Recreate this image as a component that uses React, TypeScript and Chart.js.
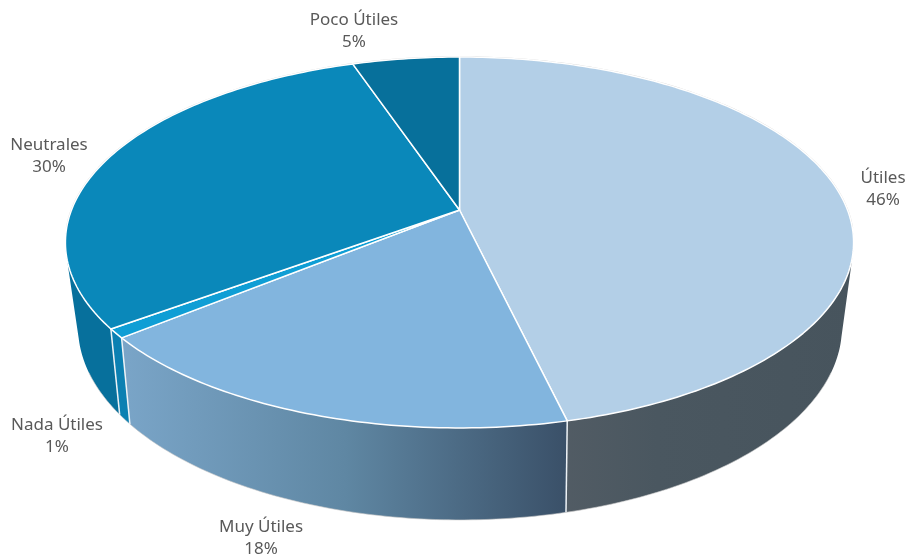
import React, { useEffect, useRef } from "react";
import { Chart, registerables } from "chart.js";

Chart.register(...registerables);

const categories = ["Útiles", "Muy Útiles", "Nada Útiles", "Neutrales", "Poco Útiles"];
const values = [46.3, 17.8, 0.8, 29.9, 5.2];
const percentLabels = ["46%", "18%", "1%", "30%", "5%"];
const topColors = ["#B3CFE7", "#82B5DE", "#0F9ED5", "#0A88BA", "#07709B"];
const wallStops = [
  ["#5A6169", "#4A5760", "#47545D"],
  ["#7AA5C8", "#5F87A3", "#3A5068"],
  ["#0B80B2", "#0B80B2", "#0B80B2"],
  ["#07709C", "#07709C", "#07709C"],
  ["#07709C", "#07709C", "#07709C"],
];
const labelAnchors = [
  [883, 178],
  [261, 527],
  [57, 425],
  [49, 145],
  [354, 20],
];

const topFace = { cx: 459.5, cy: 210, a: 388, b: 179.8, p: 0.175 };
const bottomFace = { cx: 460, cy: 290.3, a: 375, b: 186, p: 0.19 };
type Face = typeof topFace;

const project = (f: Face, angle: number): [number, number] => {
  const u = Math.cos(angle);
  const v = Math.sin(angle);
  const d = 1 - f.p * v;
  return [f.cx + (f.a * u) / d, f.cy + (f.b * v) / d];
};

const pie3d = {
  id: "pie3d",
  beforeDatasetsDraw(chart: any) {
    const ctx: CanvasRenderingContext2D = chart.ctx;
    const arcs = chart.getDatasetMeta(0).data;
    const STEP = Math.PI / 180;
    ctx.save();
    ctx.lineJoin = "round";

    const sample = (start: number, end: number) => {
      const n = Math.max(2, Math.ceil((end - start) / STEP));
      return Array.from({ length: n + 1 }, (_, i) => start + ((end - start) * i) / n);
    };

    // walls
    arcs.forEach((arc: any, i: number) => {
      const angles = sample(arc.startAngle, arc.endAngle);
      const path = new Path2D();
      let minX = Infinity;
      let maxX = -Infinity;
      for (let k = 0; k < angles.length - 1; k++) {
        const q = [
          project(topFace, angles[k]),
          project(topFace, angles[k + 1]),
          project(bottomFace, angles[k + 1]),
          project(bottomFace, angles[k]),
        ];
        let area = 0;
        q.forEach((pt, j) => {
          const nx = q[(j + 1) % 4];
          area += pt[0] * nx[1] - nx[0] * pt[1];
          minX = Math.min(minX, pt[0]);
          maxX = Math.max(maxX, pt[0]);
        });
        const ordered = area < 0 ? [...q].reverse() : q;
        path.moveTo(ordered[0][0], ordered[0][1]);
        ordered.slice(1).forEach((pt) => path.lineTo(pt[0], pt[1]));
        path.closePath();
      }
      const grad = ctx.createLinearGradient(minX, 0, maxX, 0);
      grad.addColorStop(0, wallStops[i][0]);
      grad.addColorStop(0.5, wallStops[i][1]);
      grad.addColorStop(1, wallStops[i][2]);
      ctx.fillStyle = grad;
      ctx.fill(path);
    });

    // faint outer contour of the visible bottom rim
    const rim = sample(0.42, Math.PI - 0.42);
    ctx.beginPath();
    rim.forEach((a, k) => {
      const [x, y] = project(bottomFace, a);
      if (k === 0) ctx.moveTo(x, y);
      else ctx.lineTo(x, y);
    });
    ctx.strokeStyle = "rgba(200,200,200,0.6)";
    ctx.lineWidth = 1;
    ctx.stroke();

    // seams on the visible wall
    arcs.forEach((arc: any) => {
      const a = arc.endAngle;
      if (Math.sin(a) <= 0.2) return;
      const t = project(topFace, a);
      const b = project(bottomFace, a);
      ctx.beginPath();
      ctx.moveTo(t[0], t[1]);
      ctx.lineTo(b[0], b[1]);
      ctx.strokeStyle = "#EDF2F6";
      ctx.lineWidth = 1.5;
      ctx.stroke();
    });

    // faint contour of the back of the top rim
    const back = sample(Math.PI - 0.1, Math.PI * 2 + 0.1);
    ctx.beginPath();
    back.forEach((a, k) => {
      const [x, y] = project(topFace, a);
      if (k === 0) ctx.moveTo(x, y);
      else ctx.lineTo(x, y);
    });
    ctx.strokeStyle = "rgba(170,170,170,0.55)";
    ctx.lineWidth = 1.6;
    ctx.stroke();

    // top faces
    arcs.forEach((arc: any) => {
      const angles = sample(arc.startAngle, arc.endAngle);
      ctx.beginPath();
      ctx.moveTo(topFace.cx, topFace.cy);
      angles.forEach((a) => {
        const [x, y] = project(topFace, a);
        ctx.lineTo(x, y);
      });
      ctx.closePath();
      ctx.fillStyle = arc.options.backgroundColor;
      ctx.fill();
      ctx.strokeStyle = arc.options.borderColor;
      ctx.lineWidth = arc.options.borderWidth;
      ctx.stroke();
    });

    ctx.restore();
    return false;
  },
  afterDraw(chart: any) {
    const ctx: CanvasRenderingContext2D = chart.ctx;
    ctx.save();
    ctx.font = '17px "Noto Sans"';
    ctx.fillStyle = "#595959";
    ctx.textAlign = "center";
    ctx.textBaseline = "middle";
    categories.forEach((name, i) => {
      const [x, y] = labelAnchors[i];
      ctx.fillText(name, x, y);
      ctx.fillText(percentLabels[i], x, y + 22);
    });
    ctx.restore();
  },
};

export default function App() {
  const ref = useRef<HTMLCanvasElement>(null);
  useEffect(() => {
    const chart = new Chart(ref.current!, {
      type: "pie",
      data: {
        labels: categories,
        datasets: [
          {
            data: values,
            backgroundColor: topColors,
            borderColor: "#FFFFFF",
            borderWidth: 1.5,
          },
        ],
      },
      options: {
        responsive: false,
        animation: false,
        devicePixelRatio: 1,
        plugins: { legend: { display: false }, tooltip: { enabled: false } },
      },
      plugins: [pie3d],
    } as any);
    return () => chart.destroy();
  }, []);
  return (
    <div style={{ position: "absolute", left: 0, top: 0, width: 906, height: 554, background: "#fff" }}>
      <canvas ref={ref} width={906} height={554} style={{ display: "block" }} />
    </div>
  );
}
